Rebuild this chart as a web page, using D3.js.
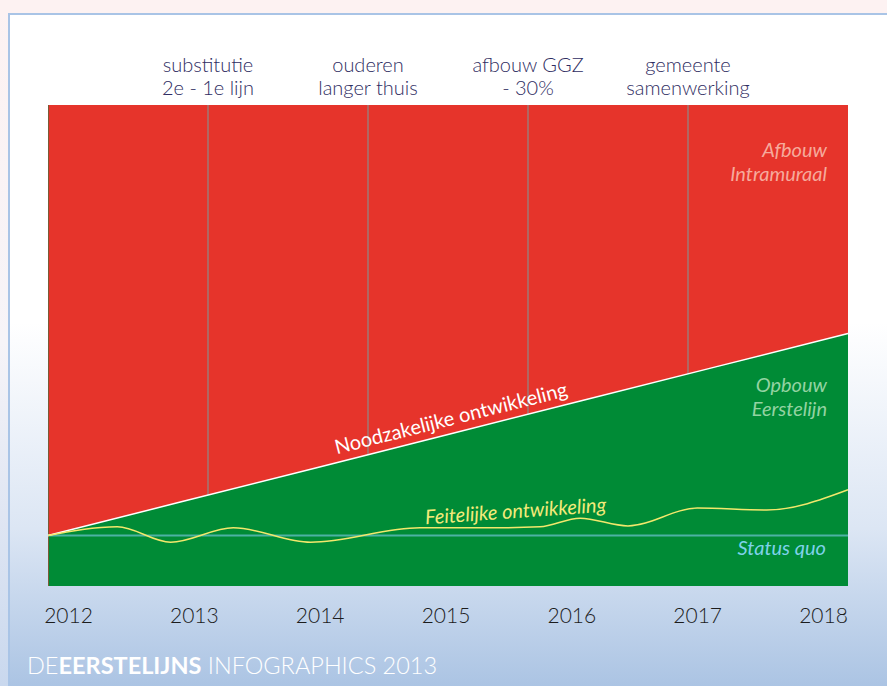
<!DOCTYPE html>
<html>
<head>
<meta charset="utf-8">
<script src="https://cdn.jsdelivr.net/npm/d3@7"></script>
<style>
  html, body { margin: 0; padding: 0; background: #fdf2f2; }
  svg { display: block; }
</style>
</head>
<body>
<svg id="chart"></svg>
<script>
// jaren op de x-as
const years = [2012, 2013, 2014, 2015, 2016, 2017, 2018];
// noodzakelijke ontwikkeling (% opbouw eerstelijn t.o.v. status quo)
const noodzakelijk = [0, 7, 14, 21, 28, 35, 42];
const feitelijkJaar = [2012, 2012.52, 2012.92, 2013.39, 2013.97, 2014.79, 2015.39, 2015.69, 2015.99, 2016.35, 2016.87, 2017.39, 2018];
const feitelijkWaarde = [0, 1.8, -1.4, 1.6, -1.4, 1.6, 1.6, 1.8, 3.6, 2.0, 5.7, 5.3, 9.5];
// gebeurtenissen boven de grafiek
const eventYears = [2013.2, 2014.4, 2015.6, 2016.8];
const eventLabels = [
    ["substitutie", "2e - 1e lijn"],
    ["ouderen", "langer thuis"],
    ["afbouw GGZ", "- 30%"],
    ["gemeente", "samenwerking"]
];
const statusQuo = 0;

var width = 887, height = 686;
var plotLeft = 48, plotRight = 848, plotTop = 105, plotBottom = 586;

const svg = d3.select("#chart")
    .attr("width", width)
    .attr("height", height);

// achtergrond
var defs = svg.append("defs");
var bg = defs.append("linearGradient")
    .attr("id", "bgGrad")
    .attr("x1", 0).attr("y1", 0).attr("x2", 0).attr("y2", 1);
bg.append("stop").attr("offset", "0%").attr("stop-color", "#ffffff");
bg.append("stop").attr("offset", "45%").attr("stop-color", "#ffffff");
bg.append("stop").attr("offset", "75%").attr("stop-color", "#dce6f4");
bg.append("stop").attr("offset", "100%").attr("stop-color", "#a7c1e2");

var side = defs.append("linearGradient")
    .attr("id", "sideGrad")
    .attr("x1", 0).attr("y1", 0).attr("x2", 0).attr("y2", 1);
side.append("stop").attr("offset", "0%").attr("stop-color", "#fdf2f2");
side.append("stop").attr("offset", "50%").attr("stop-color", "#f6f4f8");
side.append("stop").attr("offset", "100%").attr("stop-color", "#c9d8ee");

svg.append("rect")
    .attr("x", 0).attr("y", 0)
    .attr("width", width).attr("height", height)
    .attr("fill", "url(#sideGrad)");
svg.append("rect")
    .attr("x", 0).attr("y", 0)
    .attr("width", width).attr("height", 13)
    .attr("fill", "#fdf2f2");

svg.append("rect")
    .attr("x", 9).attr("y", 14)
    .attr("width", width + 10).attr("height", height)
    .attr("fill", "url(#bgGrad)")
    .attr("stroke", "#a9c4e6")
    .attr("stroke-width", 2);

// schalen
const x = d3.scaleLinear()
    .domain([2012, 2018])
    .range([plotLeft, plotRight]);

const y = d3.scaleLinear()
    .domain([-10.5, 89.5])
    .range([plotBottom, plotTop]);

// rood vlak (afbouw intramuraal)
svg.append("rect")
    .attr("x", plotLeft).attr("y", plotTop)
    .attr("width", plotRight - plotLeft).attr("height", plotBottom - plotTop)
    .attr("fill", "#e6342b");

// groen vlak (opbouw eerstelijn)
const area = d3.area()
    .x((d, i) => x(years[i]))
    .y0(plotBottom)
    .y1(d => y(d));

svg.append("path")
    .datum(noodzakelijk)
    .attr("d", area)
    .attr("fill", "#008b36");

// verticale lijnen bij gebeurtenissen, tot aan de noodzakelijke lijn
const nood = d3.scaleLinear().domain(d3.extent(years)).range(d3.extent(noodzakelijk));

svg.append("g")
    .selectAll("line")
    .data(eventYears)
    .join("line")
    .attr("x1", d => x(d)).attr("x2", d => x(d))
    .attr("y1", plotTop)
    .attr("y2", d => y(nood(d)))
    .attr("stroke", "#8e8a88")
    .attr("stroke-width", 1.2);

// randje links
svg.append("line")
    .attr("x1", plotLeft + 0.5).attr("x2", plotLeft + 0.5)
    .attr("y1", plotTop).attr("y2", plotBottom)
    .attr("stroke", "#7a5a36").attr("stroke-width", 1);

// status quo
svg.append("line")
    .attr("x1", plotLeft).attr("x2", plotRight)
    .attr("y1", y(statusQuo)).attr("y2", y(statusQuo))
    .attr("stroke", "#4cb2a4")
    .attr("stroke-width", 2);

// noodzakelijke lijn
svg.append("path")
    .datum(noodzakelijk)
    .attr("d", d3.line().x((d, i) => x(years[i])).y(d => y(d)))
    .attr("fill", "none")
    .attr("stroke", "#ffffff")
    .attr("stroke-width", 1.5);

// feitelijke ontwikkeling
svg.append("path")
    .datum(feitelijkWaarde)
    .attr("d", d3.line()
        .x((d, i) => x(feitelijkJaar[i]))
        .y(d => y(d))
        .curve(d3.curveMonotoneX))
    .attr("fill", "none")
    .attr("stroke", "#f2e86c")
    .attr("stroke-width", 1.5);

// labels in het vlak
var font = "Lato, 'Open Sans', sans-serif";

function blok(lines, xPos, yPos, color) {
    var t = svg.append("text")
        .attr("text-anchor", "end")
        .attr("font-family", font)
        .attr("font-style", "italic")
        .attr("font-size", 20)
        .attr("fill", color);
    lines.forEach(function (l, i) {
        t.append("tspan")
            .attr("x", xPos)
            .attr("y", yPos + i * 24)
            .text(l);
    });
}
blok(["Afbouw", "Intramuraal"], 827, 157, "#f6aa9c");
blok(["Opbouw", "Eerstelijn"], 827, 392, "#93d3a2");
blok(["Status quo"], 826, 555, "#7fd2ea");

// schuine tekst langs de noodzakelijke lijn
var hoek = Math.atan2(y(nood(2018)) - y(nood(2012)), x(2018) - x(2012)) * 180 / Math.PI;
var tx = 2015.05;
svg.append("text")
    .attr("transform", "translate(" + x(tx) + "," + y(nood(tx)) + ") rotate(" + hoek + ")")
    .attr("y", -8)
    .attr("text-anchor", "middle")
    .attr("font-family", font)
    .attr("font-size", 20)
    .attr("fill", "#ffffff")
    .text("Noodzakelijke ontwikkeling");

svg.append("text")
    .attr("transform", "translate(516,518) rotate(-4)")
    .attr("text-anchor", "middle")
    .attr("font-family", font)
    .attr("font-style", "italic")
    .attr("font-size", 20)
    .attr("fill", "#f3ea7a")
    .text("Feitelijke ontwikkeling");

// gebeurtenissen bovenaan
var ev = svg.append("g")
    .selectAll("text")
    .data(eventLabels)
    .join("text")
    .attr("text-anchor", "middle")
    .attr("font-family", font)
    .attr("font-weight", 300)
    .attr("font-size", 20)
    .attr("fill", "#2f2d62");
ev.append("tspan")
    .attr("x", (d, i) => x(eventYears[i]))
    .attr("y", 72)
    .text(d => d[0]);
ev.append("tspan")
    .attr("x", (d, i) => x(eventYears[i]))
    .attr("y", 95)
    .text(d => d[1]);

// jaartallen
const xLabels = d3.scalePoint()
    .domain(years)
    .range([68, 823]);

var axis = svg.append("g")
    .attr("transform", "translate(0,600)")
    .call(d3.axisBottom(xLabels).tickSize(0).tickPadding(0));
axis.select(".domain").remove();
axis.selectAll("text")
    .attr("dy", "0")
    .attr("y", 23)
    .attr("font-family", font)
    .attr("font-weight", 300)
    .attr("font-size", 21)
    .attr("fill", "#1c1c1c");

// voettekst
var foot = svg.append("text")
    .attr("x", 27)
    .attr("y", 674)
    .attr("font-family", font)
    .attr("font-size", 23.5)
    .attr("fill", "#ffffff");
foot.append("tspan").attr("font-weight", 300).text("DE");
foot.append("tspan").attr("font-weight", 700).text("EERSTELIJNS");
foot.append("tspan").attr("font-weight", 300).text(" INFOGRAPHICS 2013");
</script>
</body>
</html>
